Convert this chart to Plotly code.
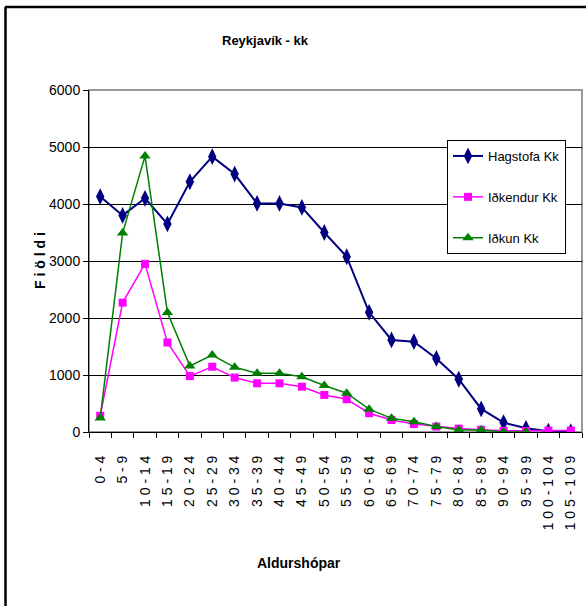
import plotly.graph_objects as go

categories = ["0-4", "5-9", "10-14", "15-19", "20-24", "25-29", "30-34", "35-39",
              "40-44", "45-49", "50-54", "55-59", "60-64", "65-69", "70-74", "75-79",
              "80-84", "85-89", "90-94", "95-99", "100-104", "105-109"]
hagstofa = [4130, 3800, 4100, 3650, 4390, 4830, 4525, 4010, 4010, 3940, 3500,
            3075, 2100, 1615, 1585, 1290, 925, 405, 165, 65, 15, 5]
idkendur = [285, 2270, 2950, 1570, 980, 1145, 955, 855, 855, 795, 650,
            575, 330, 210, 140, 95, 60, 40, 20, 20, 25, 25]
idkun = [245, 3490, 4840, 2095, 1160, 1350, 1135, 1030, 1030, 970, 815,
         680, 400, 240, 180, 95, 35, 35, 0, 0, None, None]
tick_text = [" ".join(c) for c in categories]
y_ticks = [0, 1000, 2000, 3000, 4000, 5000, 6000]

FONT = "Liberation Sans, Arial, sans-serif"
W, H = 586, 606
L, R, T, B = 89, 582, 90, 432
pw, ph = R - L, B - T

def px(x):
    return (x - L) / pw

def py(y):
    return (B - y) / ph

fig = go.Figure()
fig.add_trace(go.Scatter(x=categories, y=hagstofa, name="Hagstofa Kk", mode="lines+markers",
                         line=dict(color="#000080", width=2),
                         marker=dict(symbol="diamond-tall", size=12, color="#000080"),
                         legendgroup="a"))
fig.add_trace(go.Scatter(x=categories, y=idkendur, name="Iðkendur Kk", mode="lines+markers",
                         line=dict(color="#FF00FF", width=1.5),
                         marker=dict(symbol="square", size=8, color="#FF00FF"),
                         legendgroup="b"))
fig.add_trace(go.Scatter(x=categories, y=idkun, name="Iðkun Kk", mode="lines+markers",
                         line=dict(color="#008000", width=1.5),
                         marker=dict(symbol="triangle-up", size=10, color="#008000"),
                         legendgroup="c", connectgaps=False))

fig.update_layout(
    width=W, height=H,
    margin=dict(l=L, r=W - R, t=T, b=H - B),
    paper_bgcolor="white", plot_bgcolor="white",
    font=dict(family=FONT, size=14, color="black"),
    showlegend=True,
    legend=dict(x=px(447), y=py(140), xanchor="left", yanchor="top",
                bgcolor="white", bordercolor="black", borderwidth=1,
                font=dict(family=FONT, size=13, color="black"),
                tracegroupgap=21, itemwidth=30),
    xaxis=dict(type="category", categoryorder="array", categoryarray=categories,
               tickmode="array", tickvals=categories, ticktext=tick_text,
               tickangle=-90, tickson="boundaries", ticks="outside", ticklen=5,
               tickcolor="black", showline=True, linecolor="black", linewidth=1,
               showgrid=False, zeroline=False, ticklabelstandoff=17,
               tickfont=dict(family=FONT, size=14, color="black"),
               range=[-0.5, len(categories) - 0.5]),
    yaxis=dict(range=[0, 6000], tickmode="array", tickvals=y_ticks,
               ticktext=[str(v) for v in y_ticks], ticks="outside", ticklen=5,
               tickcolor="black", showline=True, linecolor="black", linewidth=1,
               showgrid=True, gridcolor="black", gridwidth=1, zeroline=False,
               tickfont=dict(family=FONT, size=14, color="black")),
    shapes=[
        dict(type="rect", xref="paper", yref="paper", x0=0, x1=1, y0=0, y1=1,
             line=dict(color="#999999", width=2), layer="below"),
        dict(type="line", xref="paper", yref="paper", x0=px(5), x1=px(620), y0=py(7), y1=py(7),
             line=dict(color="black", width=2.5)),
        dict(type="line", xref="paper", yref="paper", x0=px(5.5), x1=px(5.5), y0=py(7), y1=py(640),
             line=dict(color="black", width=2.5)),
    ],
    annotations=[
        dict(text="Reykjavík - kk", xref="paper", yref="paper", x=px(265), y=py(40),
             xanchor="center", yanchor="middle", showarrow=False,
             font=dict(family=FONT, size=13, color="black", weight="bold")),
        dict(text="Aldurshópar", xref="paper", yref="paper", x=px(299), y=py(563),
             xanchor="center", yanchor="middle", showarrow=False,
             font=dict(family=FONT, size=14, color="black", weight="bold")),
        dict(text="F i ö l d i", xref="paper", yref="paper", x=px(40), y=py(261),
             xanchor="center", yanchor="middle", showarrow=False, textangle=-90,
             font=dict(family=FONT, size=14, color="black", weight="bold")),
    ],
)

fig.write_html("out.html", config={"displayModeBar": False},
               post_script="document.body.style.margin='0';document.body.style.overflow='hidden';")
